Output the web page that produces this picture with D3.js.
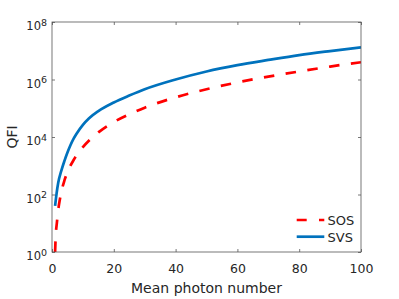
<!DOCTYPE html>
<html>
<head>
<meta charset="utf-8">
<script src="https://cdn.jsdelivr.net/npm/d3@7"></script>
<style>
  body { margin: 0; background: #fff; }
  svg { display: block; }
  text { font-family: "DejaVu Sans", sans-serif; fill: #262626; }
</style>
</head>
<body>
<svg width="399" height="299"></svg>
<script>
// data
const svsN = [1, 1.5, 2, 3, 4, 5, 6, 7, 8, 10, 12, 15, 20, 25, 30, 40, 50, 60, 70, 80, 90, 100];
const svsQFI = [40, 112, 251, 661, 1445, 2884, 5248, 8710, 13180, 26300, 44670, 79430, 158500, 275400, 457100, 1000000, 1905000, 3162000, 4786000, 7079000, 9772000, 13180000];

const sosN = [1, 1.2, 1.6, 2, 2.5, 3, 4, 5, 7, 10, 12, 15, 20, 25, 30, 40, 50, 60, 70, 80, 90, 100];
const sosQFI = [1, 3.5, 11, 28, 63, 120, 302, 603, 1585, 4467, 7586, 14450, 33110, 61660, 104700, 239900, 457100, 794300, 1259000, 1905000, 2818000, 3981000];

const xTicks = [0, 20, 40, 60, 80, 100];
const yTickExps = [0, 2, 4, 6, 8];

const legendNames = ['SOS', 'SVS'];

const width = 399;
const height = 299;
const margin = { top: 22, right: 38, bottom: 47, left: 52 };

const svg = d3.select('svg');

const xScale = d3.scaleLinear()
    .domain([0, 100])
    .range([margin.left, width - margin.right]);

const yScale = d3.scaleLog()
    .domain([1, 1e8])
    .range([height - margin.bottom, margin.top]);

const axisColor = '#555';
const tickLen = 3;

// clip for the curves
svg.append('clipPath')
    .attr('id', 'plotClip')
    .append('rect')
    .attr('x', margin.left)
    .attr('y', margin.top)
    .attr('width', width - margin.left - margin.right)
    .attr('height', height - margin.top - margin.bottom);

const line = d3.line()
    .x(d => xScale(d[0]))
    .y(d => yScale(d[1]))
    .curve(d3.curveMonotoneX);

const sosData = sosN.map((n, i) => [n, sosQFI[i]]);
const svsData = svsN.map((n, i) => [n, svsQFI[i]]);

svg.append('path')
    .datum(sosData)
    .attr('clip-path', 'url(#plotClip)')
    .attr('fill', 'none')
    .attr('stroke', '#ff0000')
    .attr('stroke-width', 2.7)
    .attr('stroke-dasharray', '10.5,11.5')
    .attr('d', line);

svg.append('path')
    .datum(svsData)
    .attr('clip-path', 'url(#plotClip)')
    .attr('fill', 'none')
    .attr('stroke', '#0072bd')
    .attr('stroke-width', 2.7)
    .attr('d', line);

// axes (ticks pointing inward, box on)
const xAxisBottom = g => g
    .attr('transform', `translate(0, ${yScale(1)})`)
    .call(d3.axisBottom(xScale).tickValues(xTicks).tickSizeInner(-tickLen).tickSizeOuter(0).tickPadding(12))
    .call(g => g.select('.domain').remove());

const xAxisTop = g => g
    .attr('transform', `translate(0, ${yScale(1e8)})`)
    .call(d3.axisTop(xScale).tickValues(xTicks).tickSizeInner(-tickLen).tickSizeOuter(0).tickFormat(''))
    .call(g => g.select('.domain').remove());

const yAxisLeft = g => g
    .attr('transform', `translate(${xScale(0)}, 0)`)
    .call(d3.axisLeft(yScale).tickValues(yTickExps.map(e => Math.pow(10, e))).tickSizeInner(-tickLen).tickSizeOuter(0).tickFormat(''))
    .call(g => g.select('.domain').remove());

const yAxisRight = g => g
    .attr('transform', `translate(${xScale(100)}, 0)`)
    .call(d3.axisRight(yScale).tickValues(yTickExps.map(e => Math.pow(10, e))).tickSizeInner(-tickLen).tickSizeOuter(0).tickFormat(''))
    .call(g => g.select('.domain').remove());

[xAxisBottom, xAxisTop, yAxisLeft, yAxisRight].forEach(ax => {
    const g = svg.append('g').call(ax);
    g.selectAll('line').attr('stroke', axisColor).attr('stroke-width', 0.8);
});

svg.selectAll('.tick text')
    .attr('font-family', '"DejaVu Sans", sans-serif')
    .attr('font-size', 12.5)
    .attr('fill', '#262626');

// y tick labels as 10^n
const yLabels = svg.append('g');
yTickExps.forEach(e => {
    const t = yLabels.append('text')
        .attr('x', xScale(0) - 5)
        .attr('y', yScale(Math.pow(10, e)) + 8)
        .attr('text-anchor', 'end')
        .attr('font-size', 11.5)
        .text('10');
    t.append('tspan')
        .attr('dy', -4.5)
        .attr('font-size', 9.5)
        .text(e);
});

// box
svg.append('rect')
    .attr('x', xScale(0))
    .attr('y', yScale(1e8))
    .attr('width', xScale(100) - xScale(0))
    .attr('height', yScale(1) - yScale(1e8))
    .attr('fill', 'none')
    .attr('stroke', axisColor)
    .attr('stroke-width', 0.8);

// axis titles
svg.append('text')
    .attr('x', (xScale(0) + xScale(100)) / 2)
    .attr('y', 292.5)
    .attr('text-anchor', 'middle')
    .attr('font-size', 14)
    .text('Mean photon number');

svg.append('text')
    .attr('transform', `translate(17, ${(yScale(1) + yScale(1e8)) / 2}) rotate(-90)`)
    .attr('text-anchor', 'middle')
    .attr('font-size', 14)
    .text('QFI');

// legend
const legend = svg.append('g');
const legendStyles = [
    { color: '#ff0000', dash: '10,12.3' },
    { color: '#0072bd', dash: null }
];
legendNames.forEach((name, i) => {
    const y = 220 + i * 16.7;
    legend.append('line')
        .attr('x1', 296.7)
        .attr('x2', 324.3)
        .attr('y1', y)
        .attr('y2', y)
        .attr('stroke', legendStyles[i].color)
        .attr('stroke-width', 2.7)
        .attr('stroke-dasharray', legendStyles[i].dash);
    legend.append('text')
        .attr('x', 327.5)
        .attr('y', y + 4.8)
        .attr('font-size', 13)
        .text(name);
});
</script>
</body>
</html>
